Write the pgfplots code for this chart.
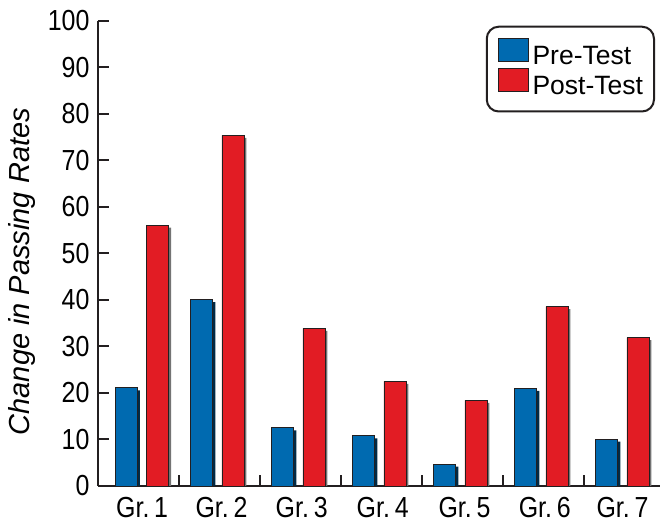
\documentclass[border=0pt]{standalone}
\usepackage{fontspec}
\setmainfont{Liberation Sans}
\newfontfamily\cond{Liberation Sans}[FakeStretch=0.86]
\usepackage{pgfplots}
\pgfplotsset{compat=1.18}
\usetikzlibrary{shadows}
\definecolor{preblue}{HTML}{006AB0}
\definecolor{postred}{HTML}{E21C24}
\definecolor{axisgray}{HTML}{231F20}

\begin{document}
\begin{tikzpicture}
\begin{axis}[
    scale only axis,
    width=562pt, height=465pt,
    xmin=0.525, xmax=7.463,
    ymin=0, ymax=100,
    axis lines=left,
    axis line style={-, line width=2pt, draw=axisgray},
    tick align=inside,
    major tick length=11pt,
    tick style={line width=2pt, draw=axisgray},
    ytick={0,10,...,100},
    xtick={1.525,2.525,3.525,4.525,5.525,6.525},
    xticklabels={},
    extra x ticks={1.07,2.05,3.04,4.04,5.05,6.04,7.0},
    extra x tick labels={Gr.\,1,Gr.\,2,Gr.\,3,Gr.\,4,Gr.\,5,Gr.\,6,Gr.\,7},
    extra x tick style={major tick length=0pt, tick label style={yshift=-7.5pt}},
    tick label style={font=\cond\fontsize{29}{30}\selectfont},
    yticklabel style={xshift=-5pt},
    /pgf/number format/assume math mode=true,
    ylabel={\itshape Change in Passing Rates},
    ylabel style={at={(axis description cs:-0.135,0.461)}, anchor=center,
        font=\fontsize{29}{30}\selectfont},
    legend image code/.code={\draw[#1, sharp corners] (0pt,-3.5pt) rectangle (30pt,19.5pt);},
    legend style={at={(1,1)}, anchor=north east, xshift=-5pt, yshift=-4.7pt,
        draw=axisgray, line width=2pt, rounded corners=12pt,
        font=\fontsize{26.5}{28}\selectfont,
        inner xsep=11pt, inner ysep=11pt, row sep=-2.5pt, column sep=4pt,
        nodes={inner sep=0pt, text height=19.5pt, text depth=6pt},
        cells={anchor=west}},
]
\addlegendimage{fill=preblue, draw=axisgray, line width=0.8pt}
\addlegendentry{Pre-Test}
\addlegendimage{fill=postred, draw=axisgray, line width=0.8pt}
\addlegendentry{Post-Test}

\addplot[ybar, bar width=0.272, bar shift=-0.194, fill=preblue, draw=axisgray,
    line width=0.8pt, forget plot,
    drop shadow={shadow xshift=2.5pt, shadow yshift=-2.5pt, fill=preblue!40!black, opacity=1, draw=none}]
    coordinates {(1.07,21.1) (2,40.1) (3,12.5) (4,10.8) (5,4.7) (6,21.0) (7,10.1)};
\addplot[ybar, bar width=0.272, bar shift=0.191, fill=postred, draw=axisgray,
    line width=0.8pt, forget plot,
    drop shadow={shadow xshift=2.5pt, shadow yshift=-2.5pt, fill=black!55, opacity=1, draw=none}]
    coordinates {(1.07,56.1) (2,75.4) (3,33.9) (4,22.5) (5,18.4) (6,38.6) (7,31.9)};
\end{axis}
\pgfresetboundingbox
\path[use as bounding box] ([xshift=-98pt, yshift=-43pt]current axis.south west)
    rectangle ([yshift=21pt]current axis.north east);
\end{tikzpicture}
\end{document}
